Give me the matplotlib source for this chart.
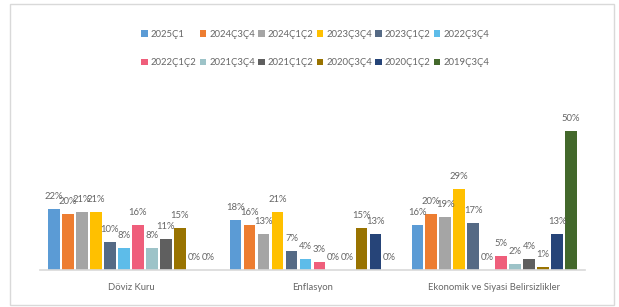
import matplotlib.pyplot as plt
import matplotlib.patches as patches
import numpy as np

plt.rcParams['font.family'] = ['Lato', 'DejaVu Sans']

categories = ['Döviz Kuru', 'Enflasyon', 'Ekonomik ve Siyasi Belirsizlikler']
series = ['2025Ç1', '2024Ç3Ç4', '2024Ç1Ç2', '2023Ç3Ç4', '2023Ç1Ç2', '2022Ç3Ç4',
          '2022Ç1Ç2', '2021Ç3Ç4', '2021Ç1Ç2', '2020Ç3Ç4', '2020Ç1Ç2', '2019Ç3Ç4']

# values per series: [Döviz Kuru, Enflasyon, Ekonomik ve Siyasi Belirsizlikler]
values = [
    [22, 18, 16],
    [20, 16, 20],
    [21, 13, 19],
    [21, 21, 29],
    [10, 7, 17],
    [8, 4, 0],
    [16, 3, 5],
    [8, 0, 2],
    [11, 0, 4],
    [15, 15, 1],
    [0, 13, 13],
    [0, 0, 50],
]

colors = ['#5B9BD5', '#ED7D31', '#A5A5A5', '#FFC000', '#556A85', '#5DBCE9',
          '#EF5E7B', '#9DC3C8', '#5F5F5F', '#997300', '#264478', '#43682B']

text_color = '#666666'
W, H = 619, 307
fig = plt.figure(figsize=(W / 100, H / 100), dpi=100)

# chart border
fig.patches.append(patches.Rectangle((10 / W, 2 / H), 604 / W, 301 / H, transform=fig.transFigure,
                                     fill=False, edgecolor='#D9D9D9', linewidth=1))

ax = fig.add_axes([40 / W, 1 - 270 / H, 545 / W, 167 / H])

x = np.arange(len(categories))
step = 0.077
width = 0.063
handles = []
for i, (name, vals) in enumerate(zip(series, values)):
    pos = x + (i - 5.5) * step
    bars = ax.bar(pos, vals, width, color=colors[i], label=name)
    handles.append(bars)
    for b, v in zip(bars, vals):
        ax.annotate(f'{v}%', (b.get_x() + b.get_width() / 2, v), xytext=(0, 12.5),
                    textcoords='offset pixels', ha='center', va='center',
                    fontsize=6.8, color=text_color)

ax.set_xlim(-0.5, 2.5)
ax.set_ylim(0, 60)
ax.set_xticks(x)
ax.set_xticklabels(categories, fontsize=6.8, color=text_color)
ax.tick_params(axis='x', length=0, pad=9)
ax.set_yticks([])
for s in ['top', 'left', 'right']:
    ax.spines[s].set_visible(False)
ax.spines['bottom'].set_color('#D9D9D9')
ax.spines['bottom'].set_linewidth(1.2)

# legend filled row by row (matplotlib fills columns first)
order = [j for c in range(6) for j in (c, c + 6)]
fig.legend([handles[j] for j in order], [series[j] for j in order],
           ncol=6, loc='center', bbox_to_anchor=(315 / W, 1 - 48.5 / H), frameon=False,
           fontsize=6.8, labelcolor=text_color, handlelength=0.7, handleheight=0.7,
           handletextpad=0.3, columnspacing=0.35, labelspacing=2.1)

fig.savefig('out.png', dpi=100)
